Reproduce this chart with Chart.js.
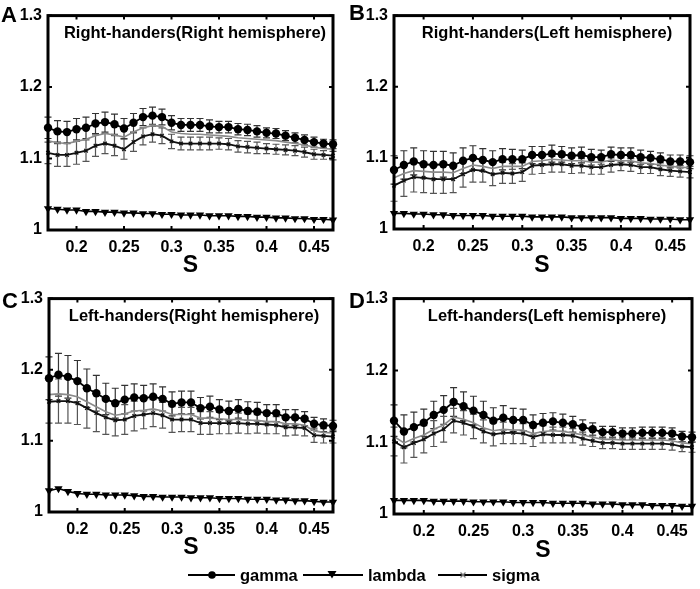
<!DOCTYPE html>
<html>
<head>
<meta charset="utf-8">
<script src="https://cdn.jsdelivr.net/npm/chart.js@4.4.1/dist/chart.umd.min.js"></script>
<style>
  body { margin: 0; background: #fff; width: 700px; height: 589px; position: relative; overflow: hidden;
         font-family: "Liberation Sans", Arial, sans-serif; }
  canvas { position: absolute; }
  .letter { position: absolute; font-weight: bold; font-size: 22px; line-height: 1; }
  .ttl { position: absolute; font-weight: bold; font-size: 16.5px; line-height: 1; white-space: nowrap; transform: translate(-50%, -50%); }
  #legend { position: absolute; left: 0; top: 560px; }
</style>
</head>
<body>
<canvas id="cA" width="345" height="285" style="left:0;top:0"></canvas>
<canvas id="cB" width="354" height="285" style="left:346px;top:0"></canvas>
<canvas id="cC" width="345" height="285" style="left:0;top:283px"></canvas>
<canvas id="cD" width="354" height="285" style="left:346px;top:283px"></canvas>

<div class="letter" style="left:1px;top:4px">A</div>
<div class="letter" style="left:349px;top:2px">B</div>
<div class="letter" style="left:2px;top:290px">C</div>
<div class="letter" style="left:349px;top:290px">D</div>

<div class="ttl" style="left:195px;top:32px">Right-handers(Right hemisphere)</div>
<div class="ttl" style="left:547px;top:32px">Right-handers(Left hemisphere)</div>
<div class="ttl" style="left:194px;top:315px">Left-handers(Right hemisphere)</div>
<div class="ttl" style="left:547px;top:315px">Left-handers(Left hemisphere)</div>

<svg id="legend" width="700" height="30" font-family="Liberation Sans, Arial, sans-serif" font-weight="bold" font-size="16.5">
  <line x1="188" y1="15" x2="235" y2="15" stroke="#000" stroke-width="1.8"/>
  <circle cx="212" cy="15" r="3.8" fill="#000"/>
  <text x="240" y="20.5">gamma</text>
  <line x1="303" y1="15" x2="363" y2="15" stroke="#000" stroke-width="1.8"/>
  <polygon points="327.5,11 336.5,11 332,18.5" fill="#000"/>
  <text x="368" y="20.5">lambda</text>
  <line x1="438" y1="15" x2="487" y2="15" stroke="#000" stroke-width="1.8"/>
  <path d="M460.5,12.5 L465.5,17.5 M465.5,12.5 L460.5,17.5" stroke="#777" stroke-width="1.3"/>
  <text x="492" y="20.5">sigma</text>
</svg>

<script>
// scale values (s) and axis ticks
const sValues = [0.17, 0.18, 0.19, 0.20, 0.21, 0.22, 0.23, 0.24, 0.25, 0.26, 0.27, 0.28, 0.29, 0.30, 0.31, 0.32,
                 0.33, 0.34, 0.35, 0.36, 0.37, 0.38, 0.39, 0.40, 0.41, 0.42, 0.43, 0.44, 0.45, 0.46, 0.47];
const sTicks = [0.2, 0.25, 0.3, 0.35, 0.4, 0.45];
const yTicks = [1, 1.1, 1.2, 1.3];

// A: right-handers, right hemisphere
const gammaA = [1.143, 1.138, 1.137, 1.141, 1.143, 1.149, 1.151, 1.148, 1.142, 1.150, 1.158, 1.160, 1.158, 1.150, 1.147, 1.147,
                1.147, 1.145, 1.144, 1.144, 1.141, 1.140, 1.138, 1.136, 1.135, 1.132, 1.129, 1.126, 1.123, 1.121, 1.120];
const gammaErrA = [0.015, 0.015, 0.015, 0.015, 0.015, 0.014, 0.014, 0.014, 0.014, 0.013, 0.012, 0.012, 0.011, 0.010, 0.009, 0.009,
                   0.009, 0.009, 0.008, 0.008, 0.008, 0.008, 0.008, 0.007, 0.007, 0.007, 0.007, 0.007, 0.007, 0.006, 0.006];
const greyA = [1.125, 1.122, 1.121, 1.124, 1.127, 1.132, 1.135, 1.133, 1.130, 1.137, 1.143, 1.146, 1.145, 1.137, 1.135, 1.134,
               1.134, 1.133, 1.132, 1.131, 1.129, 1.128, 1.127, 1.126, 1.125, 1.123, 1.121, 1.119, 1.116, 1.114, 1.113];
const sigmaA = [1.108, 1.105, 1.105, 1.108, 1.111, 1.118, 1.121, 1.118, 1.113, 1.123, 1.131, 1.134, 1.132, 1.124, 1.121, 1.121,
                1.121, 1.121, 1.121, 1.120, 1.117, 1.116, 1.115, 1.114, 1.113, 1.112, 1.111, 1.109, 1.106, 1.105, 1.104];
const sigmaErrA = [0.015, 0.016, 0.016, 0.016, 0.015, 0.015, 0.014, 0.014, 0.014, 0.013, 0.012, 0.011, 0.011, 0.010, 0.009, 0.009,
                   0.009, 0.009, 0.008, 0.008, 0.008, 0.008, 0.008, 0.007, 0.007, 0.007, 0.007, 0.007, 0.007, 0.006, 0.006];
const lambdaA = [1.030, 1.029, 1.028, 1.028, 1.026, 1.026, 1.025, 1.025, 1.024, 1.024, 1.023, 1.023, 1.022, 1.022, 1.021, 1.021,
                 1.021, 1.020, 1.020, 1.020, 1.019, 1.019, 1.018, 1.018, 1.017, 1.017, 1.016, 1.016, 1.015, 1.015, 1.014];

// B: right-handers, left hemisphere
const gammaB = [1.083, 1.090, 1.095, 1.091, 1.090, 1.091, 1.089, 1.096, 1.100, 1.097, 1.094, 1.098, 1.098, 1.098, 1.104, 1.104,
                1.106, 1.105, 1.103, 1.104, 1.101, 1.101, 1.105, 1.104, 1.104, 1.101, 1.100, 1.098, 1.095, 1.095, 1.094];
const gammaErrB = [0.020, 0.020, 0.019, 0.019, 0.019, 0.018, 0.018, 0.018, 0.017, 0.016, 0.016, 0.015, 0.014, 0.013, 0.012, 0.012,
                   0.012, 0.011, 0.011, 0.011, 0.011, 0.010, 0.010, 0.010, 0.010, 0.010, 0.009, 0.009, 0.009, 0.009, 0.009];
const greyB = [1.072, 1.078, 1.082, 1.081, 1.080, 1.080, 1.079, 1.085, 1.090, 1.088, 1.085, 1.088, 1.088, 1.088, 1.095, 1.096,
               1.098, 1.097, 1.096, 1.096, 1.094, 1.094, 1.097, 1.096, 1.096, 1.093, 1.092, 1.090, 1.088, 1.087, 1.086];
const sigmaB = [1.061, 1.068, 1.073, 1.072, 1.070, 1.070, 1.070, 1.077, 1.083, 1.082, 1.077, 1.079, 1.078, 1.080, 1.089, 1.090,
                1.091, 1.091, 1.089, 1.089, 1.087, 1.087, 1.090, 1.091, 1.090, 1.087, 1.087, 1.084, 1.082, 1.081, 1.080];
const sigmaErrB = [0.022, 0.022, 0.021, 0.021, 0.020, 0.020, 0.019, 0.018, 0.017, 0.016, 0.016, 0.015, 0.014, 0.013, 0.012, 0.012,
                   0.011, 0.011, 0.011, 0.010, 0.010, 0.010, 0.010, 0.009, 0.009, 0.009, 0.009, 0.009, 0.008, 0.008, 0.008];
const lambdaB = [1.022, 1.022, 1.021, 1.021, 1.020, 1.020, 1.019, 1.019, 1.019, 1.019, 1.018, 1.018, 1.018, 1.018, 1.017, 1.017,
                 1.017, 1.017, 1.016, 1.016, 1.016, 1.016, 1.016, 1.015, 1.015, 1.015, 1.014, 1.014, 1.014, 1.013, 1.013];

// C: left-handers, right hemisphere
const gammaC = [1.188, 1.193, 1.190, 1.184, 1.174, 1.167, 1.159, 1.153, 1.158, 1.161, 1.160, 1.162, 1.159, 1.152, 1.154, 1.154,
                1.146, 1.148, 1.144, 1.142, 1.145, 1.142, 1.141, 1.139, 1.139, 1.133, 1.133, 1.131, 1.124, 1.122, 1.121];
const gammaErrC = [0.030, 0.030, 0.030, 0.029, 0.027, 0.025, 0.022, 0.021, 0.020, 0.019, 0.018, 0.018, 0.017, 0.017, 0.016, 0.016,
                   0.015, 0.015, 0.014, 0.014, 0.013, 0.013, 0.013, 0.012, 0.012, 0.011, 0.011, 0.010, 0.009, 0.009, 0.008];
const greyC = [1.165, 1.166, 1.165, 1.162, 1.155, 1.148, 1.141, 1.136, 1.138, 1.142, 1.143, 1.145, 1.142, 1.137, 1.137, 1.137,
               1.132, 1.132, 1.131, 1.130, 1.130, 1.129, 1.129, 1.127, 1.127, 1.124, 1.124, 1.122, 1.114, 1.112, 1.111];
const sigmaC = [1.155, 1.156, 1.156, 1.153, 1.146, 1.139, 1.133, 1.129, 1.130, 1.135, 1.137, 1.139, 1.136, 1.130, 1.130, 1.130,
                1.125, 1.125, 1.125, 1.125, 1.125, 1.124, 1.124, 1.123, 1.122, 1.119, 1.119, 1.118, 1.108, 1.107, 1.106];
const sigmaErrC = [0.030, 0.031, 0.031, 0.030, 0.028, 0.026, 0.024, 0.022, 0.021, 0.021, 0.020, 0.019, 0.018, 0.018, 0.017, 0.017,
                   0.016, 0.016, 0.015, 0.015, 0.014, 0.014, 0.013, 0.013, 0.012, 0.012, 0.011, 0.011, 0.010, 0.010, 0.009];
const lambdaC = [1.030, 1.033, 1.029, 1.026, 1.025, 1.025, 1.024, 1.024, 1.024, 1.023, 1.022, 1.022, 1.021, 1.021, 1.021, 1.020,
                 1.020, 1.020, 1.019, 1.019, 1.019, 1.018, 1.018, 1.018, 1.017, 1.017, 1.016, 1.016, 1.015, 1.014, 1.014];

// D: left-handers, left hemisphere
const gammaD = [1.130, 1.115, 1.121, 1.127, 1.138, 1.145, 1.156, 1.150, 1.144, 1.138, 1.130, 1.134, 1.131, 1.131, 1.124, 1.127,
                1.129, 1.127, 1.125, 1.121, 1.118, 1.114, 1.114, 1.112, 1.112, 1.113, 1.113, 1.113, 1.112, 1.108, 1.107];
const gammaErrD = [0.022, 0.023, 0.021, 0.019, 0.019, 0.020, 0.020, 0.020, 0.020, 0.019, 0.018, 0.017, 0.016, 0.015, 0.014, 0.013,
                   0.012, 0.012, 0.011, 0.010, 0.009, 0.008, 0.008, 0.008, 0.008, 0.008, 0.008, 0.008, 0.008, 0.007, 0.007];
const greyD = [1.108, 1.099, 1.105, 1.110, 1.118, 1.124, 1.135, 1.132, 1.127, 1.120, 1.116, 1.118, 1.117, 1.117, 1.112, 1.115,
               1.116, 1.115, 1.113, 1.110, 1.107, 1.104, 1.104, 1.103, 1.103, 1.103, 1.103, 1.103, 1.102, 1.099, 1.098];
const sigmaD = [1.101, 1.093, 1.099, 1.104, 1.112, 1.118, 1.130, 1.127, 1.122, 1.115, 1.111, 1.113, 1.113, 1.112, 1.107, 1.111,
                1.110, 1.110, 1.109, 1.105, 1.102, 1.099, 1.099, 1.098, 1.098, 1.098, 1.098, 1.098, 1.097, 1.094, 1.093];
const sigmaErrD = [0.020, 0.022, 0.020, 0.019, 0.018, 0.018, 0.017, 0.017, 0.017, 0.016, 0.016, 0.015, 0.015, 0.014, 0.013, 0.012,
                   0.011, 0.011, 0.010, 0.009, 0.008, 0.008, 0.008, 0.008, 0.008, 0.008, 0.008, 0.008, 0.008, 0.007, 0.007];
const lambdaD = [1.019, 1.019, 1.019, 1.019, 1.018, 1.018, 1.018, 1.018, 1.017, 1.017, 1.017, 1.017, 1.016, 1.016, 1.016, 1.016,
                 1.015, 1.015, 1.015, 1.015, 1.014, 1.014, 1.014, 1.013, 1.013, 1.013, 1.012, 1.012, 1.012, 1.011, 1.011];

const FONT = '"Liberation Sans", Arial, sans-serif';

const toPoints = ys => ys.map((y, i) => ({ x: sValues[i], y: y }));

// vertical error bars with caps, drawn under the lines
const errorBars = {
  id: 'errorBars',
  beforeDatasetsDraw(chart) {
    const { ctx, scales: { x, y } } = chart;
    chart.data.datasets.forEach(ds => {
      if (!ds.errors) return;
      ctx.save();
      ctx.strokeStyle = ds.errColor;
      ctx.lineWidth = 1.2;
      ds.data.forEach((p, i) => {
        const e = ds.errors[i];
        const px = x.getPixelForValue(p.x);
        const top = y.getPixelForValue(p.y + e);
        const bot = y.getPixelForValue(p.y - e);
        ctx.beginPath();
        ctx.moveTo(px, top); ctx.lineTo(px, bot);
        ctx.moveTo(px - 3.5, top); ctx.lineTo(px + 3.5, top);
        ctx.moveTo(px - 3.5, bot); ctx.lineTo(px + 3.5, bot);
        ctx.stroke();
      });
      ctx.restore();
    });
  }
};

// box frame with inward ticks on all four sides
const frame = {
  id: 'frame',
  afterDatasetsDraw(chart) {
    const { ctx, chartArea: a, scales: { x, y } } = chart;
    ctx.save();
    ctx.strokeStyle = '#000';
    ctx.lineWidth = 2;
    ctx.beginPath();
    x.ticks.forEach(t => {
      const px = x.getPixelForValue(t.value);
      ctx.moveTo(px, a.bottom); ctx.lineTo(px, a.bottom - 4);
      ctx.moveTo(px, a.top); ctx.lineTo(px, a.top + 4);
    });
    y.ticks.forEach(t => {
      const py = y.getPixelForValue(t.value);
      ctx.moveTo(a.left, py); ctx.lineTo(a.left + 4, py);
      ctx.moveTo(a.right, py); ctx.lineTo(a.right - 4, py);
    });
    ctx.stroke();
    ctx.lineWidth = 3;
    ctx.strokeRect(a.left, a.top, a.right - a.left, a.bottom - a.top);
    ctx.restore();
  }
};

function makePanel(id, g, gErr, grey, sig, sErr, lam, box) {
  return new Chart(document.getElementById(id), {
    type: 'line',
    data: {
      datasets: [
        { label: 'gamma', data: toPoints(g), errors: gErr, errColor: '#333',
          borderColor: '#000', backgroundColor: '#000', borderWidth: 1.8,
          pointStyle: 'circle', pointRadius: 4.2, pointBorderWidth: 0 },
        { label: 'lambda', data: toPoints(lam),
          borderColor: '#000', backgroundColor: '#000', borderWidth: 1.6,
          pointStyle: 'triangle', rotation: 180, pointRadius: 4.8, pointBorderWidth: 0 },
        { label: 'sigma', data: toPoints(sig), errors: sErr, errColor: '#555',
          borderColor: '#111', backgroundColor: '#111', borderWidth: 1.8,
          pointStyle: 'crossRot', pointRadius: 2.5, pointBorderWidth: 1.3 },
        { label: '', data: toPoints(grey),
          borderColor: '#8a8a8a', borderWidth: 1.6, pointRadius: 0 }
      ]
    },
    options: {
      responsive: false,
      animation: false,
      clip: false,
      layout: { padding: { left: 0, top: box.top, right: box.right, bottom: 0 } },
      plugins: { legend: { display: false }, tooltip: { enabled: false } },
      scales: {
        x: {
          type: 'linear', min: 0.17, max: 0.47,
          afterBuildTicks: s => { s.ticks = sTicks.map(v => ({ value: v })); },
          afterFit: s => { s.height = box.xh; },
          grid: { display: false, drawTicks: false },
          border: { display: false },
          ticks: { color: '#000', padding: 8, maxRotation: 0, autoSkip: false,
                   font: { family: FONT, size: 16, weight: 'bold' }, callback: v => String(v) },
          title: { display: true, text: 'S', color: '#000',
                   font: { family: FONT, size: 23, weight: 'bold' }, padding: { top: 0, bottom: box.sPad } }
        },
        y: {
          type: 'linear', min: 1, max: 1.3,
          afterBuildTicks: s => { s.ticks = yTicks.map(v => ({ value: v })); },
          afterFit: s => { s.width = box.yw; },
          grid: { display: false, drawTicks: false },
          border: { display: false },
          ticks: { color: '#000', padding: 6,
                   font: { family: FONT, size: 16, weight: 'bold' }, callback: v => String(v) }
        }
      }
    },
    plugins: [errorBars, frame]
  });
}

makePanel('cA', gammaA, gammaErrA, greyA, sigmaA, sigmaErrA, lambdaA, { top: 13, right: 12, xh: 55, yw: 48, sPad: 6 });
makePanel('cB', gammaB, gammaErrB, greyB, sigmaB, sigmaErrB, lambdaB, { top: 13, right: 10, xh: 56, yw: 48, sPad: 6 });
makePanel('cC', gammaC, gammaErrC, greyC, sigmaC, sigmaErrC, lambdaC, { top: 12, right: 12, xh: 56, yw: 49, sPad: 7 });
makePanel('cD', gammaD, gammaErrD, greyD, sigmaD, sigmaErrD, lambdaD, { top: 12, right: 8, xh: 54, yw: 48, sPad: 4 });
</script>
</body>
</html>
